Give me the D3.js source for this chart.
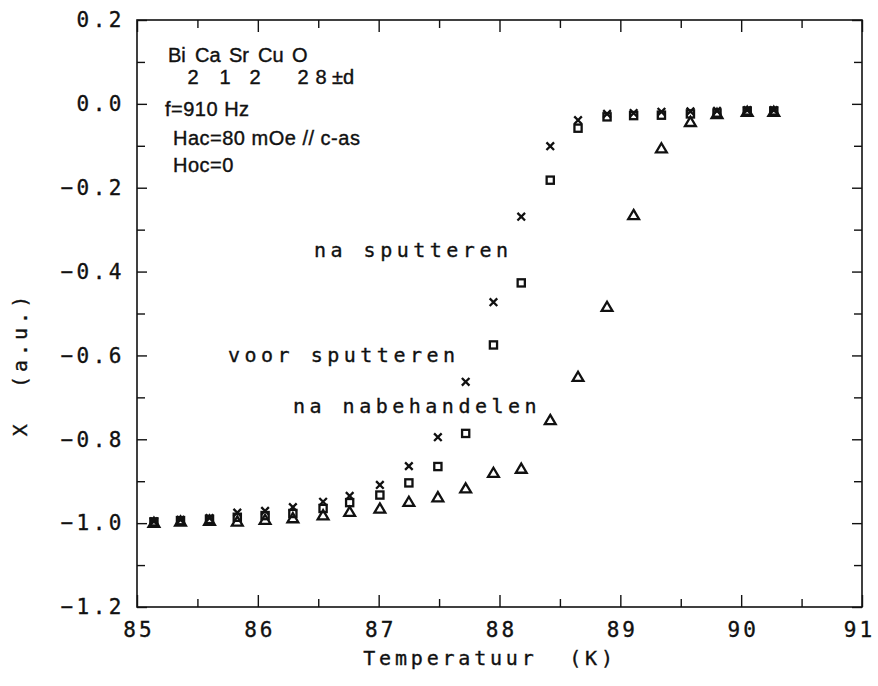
<!DOCTYPE html>
<html>
<head>
<meta charset="utf-8">
<script src="https://cdn.jsdelivr.net/npm/d3@7"></script>
<style>
  html, body { margin: 0; padding: 0; background: #fff; }
  svg { display: block; }
  .plot { font-family: "DejaVu Sans Mono", monospace; fill: #111; stroke: #111; stroke-width: 0.35; }
  .note { font-family: "Liberation Sans", Arial, sans-serif; fill: #111; stroke: #111; stroke-width: 0.4; }
</style>
</head>
<body>
<svg id="chart" width="878" height="686"></svg>
<script>
// Temperature points (K)
const temperatures = [85.14, 85.36, 85.60, 85.83, 86.06, 86.29, 86.54, 86.76, 87.01, 87.25, 87.49, 87.72,
                      87.95, 88.18, 88.42, 88.65, 88.89, 89.11, 89.34, 89.58, 89.80, 90.05, 90.27];

// Susceptibility, "na sputteren" (crosses)
const naSputteren = [-0.996, -0.992, -0.988, -0.975, -0.971, -0.962, -0.949, -0.935, -0.909, -0.864, -0.795, -0.663,
                     -0.473, -0.269, -0.101, -0.039, -0.024, -0.022, -0.019, -0.018, -0.017, -0.015, -0.015];

// Susceptibility, "voor sputteren" (squares)
const voorSputteren = [-0.997, -0.994, -0.991, -0.986, -0.982, -0.977, -0.965, -0.951, -0.933, -0.904, -0.865, -0.786,
                       -0.575, -0.427, -0.182, -0.058, -0.031, -0.028, -0.027, -0.024, -0.022, -0.017, -0.017];

// Susceptibility, "na nabehandelen" (triangles)
const naNabehandelen = [-0.999, -0.996, -0.994, -0.996, -0.992, -0.988, -0.981, -0.973, -0.965, -0.949, -0.938, -0.917,
                        -0.880, -0.870, -0.754, -0.651, -0.484, -0.265, -0.106, -0.043, -0.024, -0.019, -0.019];

const xTicks = [85, 86, 87, 88, 89, 90, 91];
const xMinorTicks = [85.5, 86.5, 87.5, 88.5, 89.5, 90.5];
const yTicks = [0.2, 0.0, -0.2, -0.4, -0.6, -0.8, -1.0, -1.2];
const yMinorTicks = [0.1, -0.1, -0.3, -0.5, -0.7, -0.9, -1.1];

const svg = d3.select("#chart");
const box = { left: 137, right: 862, top: 20, bottom: 607 };

const x = d3.scaleLinear().domain([85, 91]).range([box.left, box.right]);
const y = d3.scaleLinear().domain([-1.2, 0.2]).range([box.bottom, box.top]);

const ink = "#111";
const fmtY = v => (v < 0 ? "\u2212" : "") + Math.abs(v).toFixed(1);

// Frame
svg.append("rect")
  .attr("x", box.left).attr("y", box.top)
  .attr("width", box.right - box.left).attr("height", box.bottom - box.top)
  .attr("fill", "none").attr("stroke", ink).attr("stroke-width", 1.6);

// Inward ticks on all four sides
function styleAxis(g) {
  g.select(".domain").remove();
  g.selectAll(".tick line").attr("stroke", ink).attr("stroke-width", 1.4);
}
svg.append("g").attr("transform", `translate(0,${box.bottom})`)
  .call(d3.axisBottom(x).tickValues(xTicks).tickSize(-12).tickPadding(15).tickFormat(d3.format("d")))
  .call(styleAxis)
  .selectAll("text").attr("class", "plot").attr("font-size", 21).attr("letter-spacing", 3)
  .attr("dx", d => d === 91 ? -3 : 1.5);
svg.append("g").attr("transform", `translate(0,${box.bottom})`)
  .call(d3.axisBottom(x).tickValues(xMinorTicks).tickSize(-8).tickFormat(""))
  .call(styleAxis);
svg.append("g").attr("transform", `translate(0,${box.top})`)
  .call(d3.axisTop(x).tickValues(xTicks).tickSize(-12).tickFormat(""))
  .call(styleAxis);
svg.append("g").attr("transform", `translate(0,${box.top})`)
  .call(d3.axisTop(x).tickValues(xMinorTicks).tickSize(-8).tickFormat(""))
  .call(styleAxis);

svg.append("g").attr("transform", `translate(${box.left},0)`)
  .call(d3.axisLeft(y).tickValues(yTicks).tickSize(-10).tickPadding(12).tickFormat(fmtY))
  .call(styleAxis)
  .selectAll("text").attr("class", "plot").attr("font-size", 21).attr("letter-spacing", 3.5);
svg.append("g").attr("transform", `translate(${box.left},0)`)
  .call(d3.axisLeft(y).tickValues(yMinorTicks).tickSize(-8).tickFormat(""))
  .call(styleAxis);
svg.append("g").attr("transform", `translate(${box.right},0)`)
  .call(d3.axisRight(y).tickValues(yTicks).tickSize(-10).tickFormat(""))
  .call(styleAxis);
svg.append("g").attr("transform", `translate(${box.right},0)`)
  .call(d3.axisRight(y).tickValues(yMinorTicks).tickSize(-8).tickFormat(""))
  .call(styleAxis);

// Axis titles
svg.append("text").attr("class", "plot")
  .attr("x", 490).attr("y", 665)
  .attr("text-anchor", "middle").attr("font-size", 20).attr("letter-spacing", 3.8)
  .attr("xml:space", "preserve")
  .text("Temperatuur  (K)");
svg.append("text").attr("class", "plot")
  .attr("transform", "translate(27,364) rotate(-90)")
  .attr("text-anchor", "middle").attr("font-size", 20).attr("letter-spacing", 4)
  .attr("xml:space", "preserve")
  .text("X  (a.u.)");

// Marker shapes
const markers = svg.append("g").attr("fill", "none").attr("stroke", ink).attr("stroke-width", 2.3);

function crossPath(cx, cy, r) {
  return `M${cx - r},${cy - r}L${cx + r},${cy + r}M${cx - r},${cy + r}L${cx + r},${cy - r}`;
}
function trianglePath(cx, cy, r) {
  const h = r * 1.7;
  return `M${cx},${cy - h * 0.55}L${cx + r},${cy + h * 0.45}L${cx - r},${cy + h * 0.45}Z`;
}

markers.selectAll("rect.voor").data(temperatures.map((t, i) => [t, voorSputteren[i]]))
  .join("rect").attr("class", "voor")
  .attr("x", d => x(d[0]) - 3.6).attr("y", d => y(d[1]) - 3.6)
  .attr("width", 7.2).attr("height", 7.2);

markers.selectAll("path.na").data(temperatures.map((t, i) => [t, naSputteren[i]]))
  .join("path").attr("class", "na")
  .attr("d", d => crossPath(x(d[0]), y(d[1]), 3.8));

markers.selectAll("path.nabe").data(temperatures.map((t, i) => [t, naNabehandelen[i]]))
  .join("path").attr("class", "nabe")
  .attr("stroke-linejoin", "miter")
  .attr("d", d => trianglePath(x(d[0]), y(d[1]), 5.4));

// Curve labels
const curveLabels = [
  { text: "na sputteren", x: 314, y: 257 },
  { text: "voor sputteren", x: 228, y: 362 },
  { text: "na nabehandelen", x: 293, y: 413 }
];
svg.selectAll("text.curve").data(curveLabels).join("text")
  .attr("class", "plot curve")
  .attr("x", d => d.x).attr("y", d => d.y)
  .attr("font-size", 20).attr("letter-spacing", 4.5)
  .text(d => d.text);

// Sample description
const note = svg.append("g").attr("class", "note").attr("font-size", 20);
const elements = ["Bi", "Ca", "Sr", "Cu", "O"];
const elemX = [168, 195, 229, 258, 292];
const subscripts = ["2", "1", "2", "2", "8"];
const subX = [193, 225, 255, 303, 321];
note.selectAll("text.el").data(elements).join("text")
  .attr("class", "el").attr("x", (d, i) => elemX[i]).attr("y", 62).text(d => d);
note.selectAll("text.sub").data(subscripts).join("text")
  .attr("class", "sub").attr("x", (d, i) => subX[i]).attr("y", 84)
  .attr("text-anchor", "middle").text(d => d);
note.append("text").attr("x", 332).attr("y", 84).text("\u00b1d");
const params = [
  { text: "f=910 Hz", x: 165, y: 116 },
  { text: "Hac=80 mOe // c-as", x: 173, y: 145 },
  { text: "Hoc=0", x: 173, y: 172 }
];
note.selectAll("text.par").data(params).join("text")
  .attr("class", "par").attr("x", d => d.x).attr("y", d => d.y)
  .attr("letter-spacing", 0.5).text(d => d.text);
</script>
</body>
</html>
